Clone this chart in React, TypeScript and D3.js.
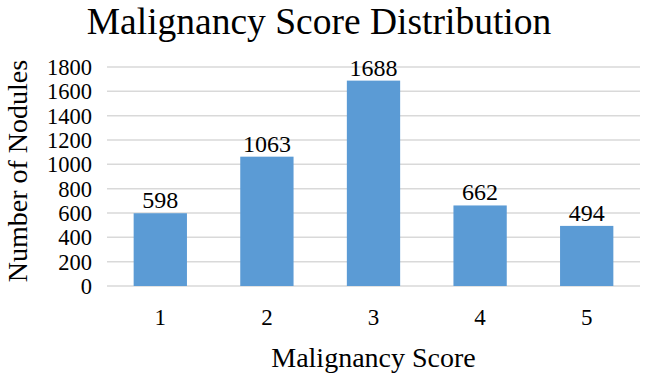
import { useEffect, useRef } from 'react';
import * as d3 from 'd3';

const categories = ['1', '2', '3', '4', '5'];
const nodules = [598, 1063, 1688, 662, 494];
const yTicks = [0, 200, 400, 600, 800, 1000, 1200, 1400, 1600, 1800];

const FONT = 'Liberation Serif, Times New Roman, DejaVu Serif, serif';

const App = () => {
  const ref = useRef<SVGSVGElement | null>(null);

  useEffect(() => {
    const width = 645;
    const height = 378;
    const margin = { top: 67, right: 5, bottom: 92, left: 107 };

    const svg = d3.select(ref.current);
    svg.selectAll('*').remove();

    const x = d3
      .scaleBand()
      .domain(categories)
      .range([margin.left, width - margin.right])
      .paddingInner(0.5)
      .paddingOuter(0.25);

    const y = d3
      .scaleLinear()
      .domain([0, 1800])
      .range([height - margin.bottom, margin.top]);

    // title
    svg
      .append('text')
      .attr('x', 319)
      .attr('y', 34)
      .attr('text-anchor', 'middle')
      .attr('font-family', FONT)
      .attr('font-size', 37.5)
      .attr('fill', '#000')
      .text('Malignancy Score Distribution');

    // gridlines
    svg
      .append('g')
      .selectAll('line')
      .data(yTicks)
      .enter()
      .append('line')
      .attr('x1', margin.left)
      .attr('x2', width - margin.right)
      .attr('y1', (d) => y(d))
      .attr('y2', (d) => y(d))
      .attr('stroke', '#d9d9d9')
      .attr('stroke-width', 1.5);

    // y tick labels
    svg
      .append('g')
      .selectAll('text')
      .data(yTicks)
      .enter()
      .append('text')
      .attr('x', 92)
      .attr('y', (d) => y(d))
      .attr('dy', '0.36em')
      .attr('text-anchor', 'end')
      .attr('font-family', FONT)
      .attr('font-size', 22.5)
      .text((d) => d);

    const data = categories.map((c, i) => ({ key: c, value: nodules[i] }));

    // bars
    svg
      .append('g')
      .selectAll('rect')
      .data(data)
      .enter()
      .append('rect')
      .attr('x', (d) => x(d.key) as number)
      .attr('width', x.bandwidth())
      .attr('y', (d) => y(d.value))
      .attr('height', (d) => y(0) - y(d.value))
      .attr('fill', '#5b9bd5');

    // value labels
    svg
      .append('g')
      .selectAll('text')
      .data(data)
      .enter()
      .append('text')
      .attr('x', (d) => (x(d.key) as number) + x.bandwidth() / 2)
      .attr('y', (d) => y(d.value) - 5)
      .attr('text-anchor', 'middle')
      .attr('font-family', FONT)
      .attr('font-size', 24)
      .text((d) => d.value);

    // x tick labels
    svg
      .append('g')
      .selectAll('text')
      .data(categories)
      .enter()
      .append('text')
      .attr('x', (d) => (x(d) as number) + x.bandwidth() / 2)
      .attr('y', 325)
      .attr('text-anchor', 'middle')
      .attr('font-family', FONT)
      .attr('font-size', 23)
      .text((d) => d);

    // axis titles
    svg
      .append('text')
      .attr('x', (margin.left + width - margin.right) / 2)
      .attr('y', 367)
      .attr('text-anchor', 'middle')
      .attr('font-family', FONT)
      .attr('font-size', 28)
      .text('Malignancy Score');

    svg
      .append('text')
      .attr('transform', 'translate(27,171) rotate(-90)')
      .attr('text-anchor', 'middle')
      .attr('font-family', FONT)
      .attr('font-size', 28)
      .text('Number of Nodules');
  }, []);

  return (
    <svg
      ref={ref}
      width={645}
      height={378}
      style={{ position: 'absolute', left: 0, top: 0, background: '#fff' }}
    />
  );
};

export default App;
